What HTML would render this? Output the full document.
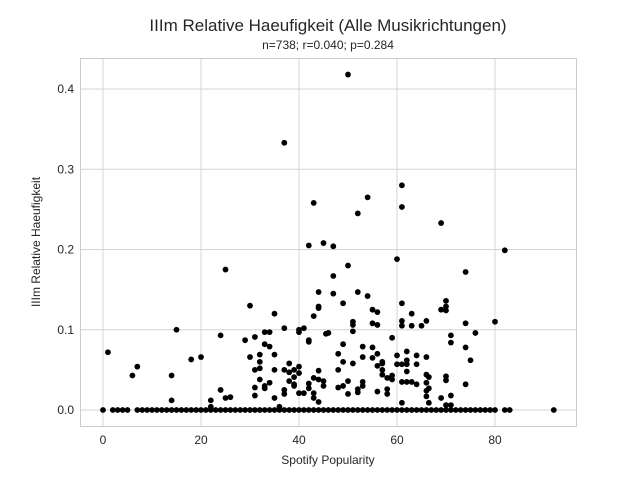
<!DOCTYPE html>
<html><head><meta charset="utf-8"><style>
body{margin:0;background:#fff;}
svg{display:block;font-family:"Liberation Sans","DejaVu Sans",sans-serif;}
</style></head><body>
<svg id="chart" width="640" height="480">
<text x="328" y="31" text-anchor="middle" font-size="17" fill="#262626">IIIm Relative Haeufigkeit (Alle Musikrichtungen)</text>
<text x="328" y="49" text-anchor="middle" font-size="12" fill="#262626">n=738; r=0.040; p=0.284</text>
<g id="grid"></g>
<rect x="80.5" y="58.5" width="496" height="368" fill="none" stroke="#cccccc"/>
<g id="pts"></g>
<text x="328" y="464" text-anchor="middle" font-size="12" fill="#262626">Spotify Popularity</text>
<text transform="translate(40,242) rotate(-90)" text-anchor="middle" font-size="12" fill="#262626">IIIm Relative Haeufigkeit</text>
</svg>
<script>
const xTicks=[0,20,40,60,80];
const yTicks=[0,0.1,0.2,0.3,0.4];
const yTickLabels=["0.0","0.1","0.2","0.3","0.4"];
const zeroX=[0,2,3,4,5,7,8,9,10,11,12,13,14,15,16,17,18,19,20,21,22,23,24,25,26,27,28,29,30,31,32,33,34,35,36,37,38,39,40,41,42,43,44,45,46,47,48,49,50,51,52,53,54,55,56,57,58,59,60,61,62,63,64,65,66,67,68,69,70,71,72,73,74,75,76,77,78,79,80,82,83,92];
const ptX=[1,6,7,14,14,15,18,20,22,22,24,24,25,25,26,29,30,30,31,31,31,31,32,32,32,32,33,33,33,33,34,34,34,35,35,35,35,36,37,37,37,37,37,38,38,38,39,39,39,39,40,40,40,40,40,41,41,42,42,42,42,42,43,43,43,43,43,44,44,44,44,44,44,45,45,45,45.5,46,47,47,47,50,50,49,52,54,52,54,51,51,51,51,48,48,49,49,49,48,50,50,52,52,53,53,53,53,55,56,55,56,55,55,56,56,57,57,57,57,58,58,58,56,59,59,59,60,60,60,61,61,61,61,61,61,61,61,62,62,62,62,62,63,63,63,64,64,64,65,66,66,66,66,66,66,66.5,66.5,66.5,69,69,69,70,70,70,70,70,70,71,71,71,71,74,74,74,74,75,76,80,82];
const ptY=[0.072,0.043,0.054,0.043,0.012,0.1,0.063,0.066,0.012,0.004,0.093,0.025,0.175,0.015,0.016,0.087,0.13,0.066,0.091,0.05,0.028,0.018,0.069,0.06,0.052,0.038,0.097,0.082,0.03,0.027,0.097,0.079,0.034,0.12,0.069,0.05,0.015,0.004,0.333,0.102,0.05,0.025,0.02,0.058,0.047,0.036,0.05,0.041,0.032,0.03,0.1,0.097,0.054,0.046,0.021,0.102,0.021,0.205,0.087,0.085,0.033,0.027,0.258,0.117,0.04,0.021,0.015,0.147,0.129,0.127,0.049,0.038,0.01,0.208,0.036,0.03,0.095,0.096,0.204,0.167,0.145,0.418,0.18,0.133,0.245,0.265,0.147,0.142,0.11,0.106,0.098,0.058,0.07,0.05,0.082,0.06,0.03,0.028,0.036,0.02,0.026,0.022,0.079,0.066,0.035,0.03,0.125,0.122,0.108,0.106,0.078,0.065,0.07,0.055,0.06,0.05,0.044,0.058,0.04,0.026,0.02,0.023,0.09,0.043,0.038,0.188,0.068,0.057,0.28,0.253,0.133,0.111,0.105,0.057,0.035,0.009,0.073,0.062,0.057,0.048,0.035,0.12,0.105,0.035,0.068,0.057,0.032,0.105,0.111,0.066,0.044,0.034,0.024,0.017,0.041,0.027,0.009,0.233,0.125,0.015,0.136,0.129,0.124,0.042,0.037,0.006,0.093,0.084,0.018,0.006,0.172,0.108,0.078,0.032,0.062,0.096,0.11,0.199];
const NS="http://www.w3.org/2000/svg";
const sx=v=>103+v*4.9;
const sy=v=>410-v*802.5;
const grid=document.getElementById('grid');
function mk(tag,attrs,parent){const e=document.createElementNS(NS,tag);for(const k in attrs)e.setAttribute(k,attrs[k]);parent.appendChild(e);return e;}
const svg=document.getElementById('chart');
xTicks.forEach(t=>{
  const l=mk('line',{x1:sx(t),x2:sx(t),y1:58,y2:426,stroke:'#d4d4d4','stroke-width':1},grid);
  
  
  const tx=mk('text',{x:sx(t),y:444,'text-anchor':'middle','font-size':12,fill:'#262626'},svg);
  tx.textContent=t;
  
  
});
yTicks.forEach((t,i)=>{
  const l=mk('line',{x1:80,x2:576,y1:sy(t),y2:sy(t),stroke:'#d4d4d4','stroke-width':1},grid);
  
  
  const tx=mk('text',{x:74,y:sy(t)+4,'text-anchor':'end','font-size':12,fill:'#262626'},svg);
  tx.textContent=yTickLabels[i];
  
  
});
const pts=document.getElementById('pts');
zeroX.forEach(x=>{
  const c=mk('circle',{cx:sx(x),cy:sy(0),r:2.9,fill:'#000'},pts);
  
  
});
ptX.forEach((x,i)=>{
  const c=mk('circle',{cx:sx(x),cy:sy(ptY[i]),r:2.9,fill:'#000'},pts);
  
  
});
</script>
</body></html>
